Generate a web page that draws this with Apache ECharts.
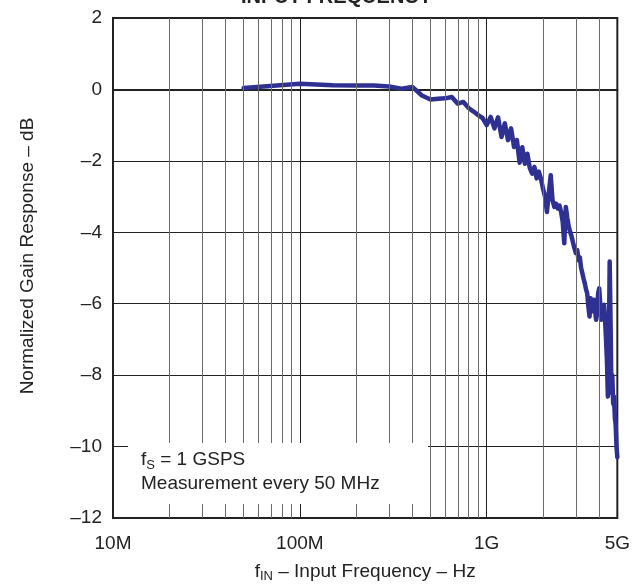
<!DOCTYPE html>
<html lang="en">
<head>
<meta charset="UTF-8">
<title>Normalized Gain Response vs Input Frequency</title>
<style>
    * {
        margin: 0;
        padding: 0;
    }

    #chart {
        width: 633px;
        height: 588px;
        background: #fff;
    }
</style>
<script src="https://cdn.jsdelivr.net/npm/echarts@6/dist/echarts.min.js"></script>
</head>

<body>
<div id="chart"></div>

<script>
// input frequency, MHz (measured every 50 MHz)
var freqMHz = [
    50, 100, 150, 200, 250, 300, 350, 400, 450, 500,
    550, 600, 650, 700, 750, 800, 850, 900, 950, 1000,
    1050, 1100, 1150, 1200, 1250, 1300, 1350, 1400, 1450, 1500,
    1550, 1600, 1650, 1700, 1750, 1800, 1850, 1900, 1950, 2000,
    2050, 2100, 2150, 2200, 2250, 2300, 2350, 2400, 2450, 2500,
    2550, 2600, 2650, 2700, 2750, 2800, 2850, 2900, 2950, 3000,
    3050, 3100, 3150, 3200, 3250, 3300, 3350, 3400, 3450, 3500,
    3550, 3600, 3650, 3700, 3750, 3800, 3850, 3900, 3950, 4000,
    4050, 4100, 4150, 4200, 4250, 4300, 4350, 4400, 4450, 4500,
    4550, 4600, 4650, 4700, 4750, 4800, 4850, 4900, 4950, 5000
];
// normalized gain, dB
var gainDb = [
    0.04, 0.16, 0.12, 0.11, 0.11, 0.08, 0.02, 0.07, -0.17, -0.28,
    -0.26, -0.25, -0.21, -0.40, -0.35, -0.52, -0.62, -0.72, -0.80, -1.00,
    -0.77, -1.09, -0.78, -1.33, -0.95, -1.42, -1.09, -1.61, -1.42, -2.05,
    -1.62, -2.08, -1.80, -2.20, -2.36, -2.17, -2.49, -2.30, -2.50, -2.77,
    -3.00, -3.43, -2.90, -2.40, -3.10, -3.29, -3.20, -3.33, -3.25, -3.43,
    -3.70, -4.31, -3.29, -3.60, -3.85, -4.00, -4.13, -4.30, -4.45, -4.58,
    -4.50, -4.78, -4.70, -5.00, -5.15, -5.30, -5.43, -5.60, -5.71, -6.08,
    -6.36, -5.85, -6.22, -6.00, -5.89, -6.20, -6.45, -6.10, -5.70, -5.57,
    -6.00, -6.45, -6.30, -6.10, -6.03, -6.45, -7.00, -7.60, -8.60, -7.50,
    -4.82, -6.50, -8.50, -8.00, -8.80, -8.60, -9.20, -9.40, -10.00, -10.30
];
// minor vertical grid lines, MHz
var minorGridMHz = [20, 30, 40, 50, 60, 70, 80, 90, 200, 300, 400, 500, 600, 700, 800, 900, 2000, 3000, 4000];

var FONT = 'Liberation Sans, Arial, sans-serif';

var chart = echarts.init(document.getElementById('chart'));

var option = {
    animation: false,
    title: {
        text: 'INPUT FREQUENCY',
        left: 236,
        top: -18,
        textStyle: {
            fontFamily: FONT,
            fontSize: 20,
            fontWeight: 'bold',
            color: '#222'
        }
    },
    grid: {
        left: 113,
        right: 14,
        top: 18,
        bottom: 68,
        show: true,
        borderColor: '#222',
        borderWidth: 2,
        backgroundColor: 'transparent'
    },
    xAxis: {
        type: 'log',
        logBase: 10,
        min: 10,
        max: 5000,
        name: 'f{sub|IN} – Input Frequency – Hz',
        nameLocation: 'middle',
        nameGap: 42,
        nameTextStyle: {
            fontFamily: FONT,
            fontSize: 19,
            color: '#222',
            rich: {
                sub: {
                    fontFamily: FONT,
                    fontSize: 13,
                    color: '#222',
                    padding: [10, 0, 0, 0]
                }
            }
        },
        axisLine: { lineStyle: { color: '#222', width: 2 } },
        axisTick: { show: false },
        axisLabel: {
            margin: 16,
            fontFamily: FONT,
            fontSize: 19,
            color: '#222',
            formatter: function (v) {
                return v >= 1000 ? Math.round(v / 1000) + 'G' : Math.round(v) + 'M';
            }
        },
        splitLine: { show: true, lineStyle: { color: '#222', width: 1 } }
    },
    yAxis: {
        type: 'value',
        min: -12,
        max: 2,
        interval: 2,
        name: 'Normalized Gain Response – dB',
        nameLocation: 'middle',
        nameGap: 76,
        nameTextStyle: {
            fontFamily: FONT,
            fontSize: 19,
            color: '#222',
            padding: [0, 0, 0, 24]
        },
        axisLine: { show: true, lineStyle: { color: '#222', width: 2 } },
        axisTick: { show: false },
        axisLabel: {
            margin: 11,
            fontFamily: FONT,
            fontSize: 19,
            color: '#222',
            formatter: function (v) {
                return v < 0 ? '–' + (-v) : '' + v;
            }
        },
        splitLine: { show: true, lineStyle: { color: '#222', width: 1 } }
    },
    graphic: [{
        type: 'rect',
        z: 100,
        shape: { x: 128, y: 443, width: 300, height: 61 },
        style: { fill: '#fff' }
    }, {
        type: 'text',
        z: 101,
        x: 141,
        y: 448,
        style: {
            text: '{t|f}{s|S}{t| = 1 GSPS}\n{t|Measurement every 50 MHz}',
            rich: {
                t: { fontFamily: FONT, fontSize: 19, lineHeight: 24, fill: '#222' },
                s: { fontFamily: FONT, fontSize: 13, lineHeight: 14, padding: [10, 0, 0, 0], fill: '#222' }
            }
        }
    }],
    series: [{
        // minor log grid
        type: 'line',
        data: [],
        z: 1,
        silent: true,
        markLine: {
            silent: true,
            symbol: 'none',
            label: { show: false },
            lineStyle: { color: '#6a6a6a', width: 1, type: 'solid' },
            data: minorGridMHz.map(function (f) { return { xAxis: f }; })
        }
    }, {
        name: 'gain',
        type: 'line',
        z: 3,
        showSymbol: false,
        data: freqMHz.map(function (f, i) { return [f, gainDb[i]]; }),
        lineStyle: { color: '#2e3192', width: 4.5, join: 'round', cap: 'round' },
        itemStyle: { color: '#2e3192' }
    }]
};

chart.setOption(option);
</script>
</body>
</html>
